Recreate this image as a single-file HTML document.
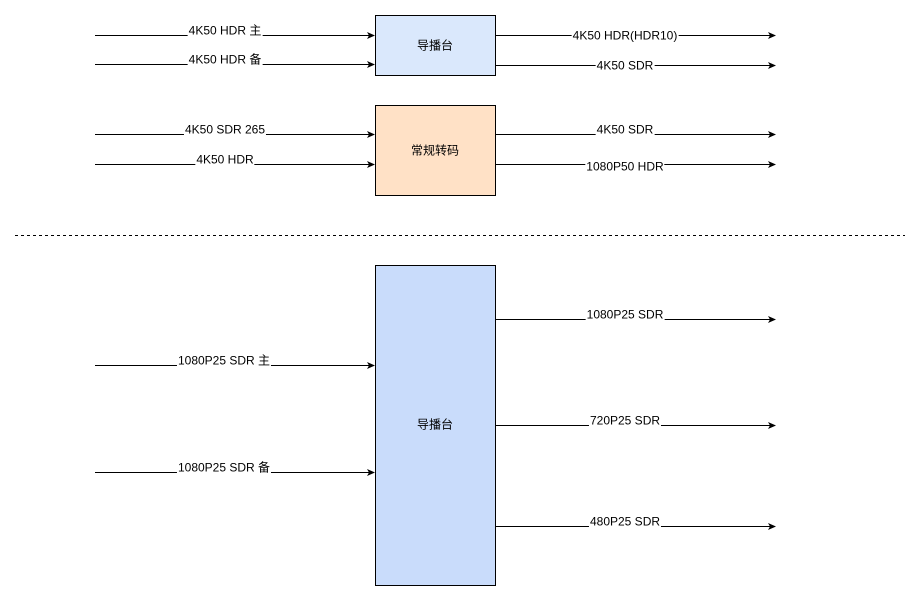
<!DOCTYPE html>
<html><head><meta charset="utf-8"><style>
body{margin:0;background:#fff;}
#c{position:relative;width:923px;height:601px;overflow:hidden;font-family:"Liberation Sans","Noto Sans CJK SC",sans-serif;font-size:12px;color:#000;}
.l{position:absolute;background:#fff;white-space:nowrap;line-height:13px;transform:translate(-50%,-50%);padding:0 1px;}
svg{position:absolute;left:0;top:0;}
</style></head><body><div id="c">
<svg width="923" height="601">
<defs><marker id="a" markerWidth="8" markerHeight="8" refX="7" refY="4" orient="auto" markerUnits="userSpaceOnUse"><path d="M0,0.5 L8,4 L0,7.5 L2,4 z" fill="#000"/></marker></defs>
<g stroke="#000" stroke-width="1" marker-end="url(#a)">
<line x1="95" y1="35.5" x2="374" y2="35.5"/>
<line x1="95" y1="64.5" x2="374" y2="64.5"/>
<line x1="95" y1="134.5" x2="374" y2="134.5"/>
<line x1="95" y1="164.5" x2="374" y2="164.5"/>
<line x1="95" y1="365.5" x2="374" y2="365.5"/>
<line x1="95" y1="472.5" x2="374" y2="472.5"/>
<line x1="495" y1="35.5" x2="775" y2="35.5"/>
<line x1="495" y1="65.5" x2="775" y2="65.5"/>
<line x1="495" y1="134.5" x2="775" y2="134.5"/>
<line x1="495" y1="164.5" x2="775" y2="164.5"/>
<line x1="495" y1="319.5" x2="775" y2="319.5"/>
<line x1="495" y1="425.5" x2="775" y2="425.5"/>
<line x1="495" y1="526.5" x2="775" y2="526.5"/>
</g>
<line x1="15" y1="235.5" x2="905" y2="235.5" stroke="#000" stroke-dasharray="3,3"/>
<rect x="375.5" y="15.5" width="120" height="60" fill="#dae8fc" stroke="#000"/>
<rect x="375.5" y="105.5" width="120" height="90" fill="#ffe1c6" stroke="#000"/>
<rect x="375.5" y="265.5" width="120" height="320" fill="#c9dcfb" stroke="#000"/>
</svg>
<div class="l" style="left:225px;top:31px">4K50 HDR 主</div>
<div class="l" style="left:225px;top:60px">4K50 HDR 备</div>
<div class="l" style="left:225px;top:130px">4K50 SDR 265</div>
<div class="l" style="left:225px;top:160px">4K50 HDR</div>
<div class="l" style="left:224px;top:361px">1080P25 SDR 主</div>
<div class="l" style="left:224px;top:468px">1080P25 SDR 备</div>
<div class="l" style="left:625px;top:36px">4K50 HDR(HDR10)</div>
<div class="l" style="left:625px;top:66px">4K50 SDR</div>
<div class="l" style="left:625px;top:130px">4K50 SDR</div>
<div class="l" style="left:625px;top:167px">1080P50 HDR</div>
<div class="l" style="left:625px;top:315px">1080P25 SDR</div>
<div class="l" style="left:625px;top:421px">720P25 SDR</div>
<div class="l" style="left:625px;top:522px">480P25 SDR</div>
<div class="l" style="left:435px;top:46px;background:none">导播台</div>
<div class="l" style="left:435px;top:151px;background:none">常规转码</div>
<div class="l" style="left:435px;top:425px;background:none">导播台</div>
</div></body></html>
